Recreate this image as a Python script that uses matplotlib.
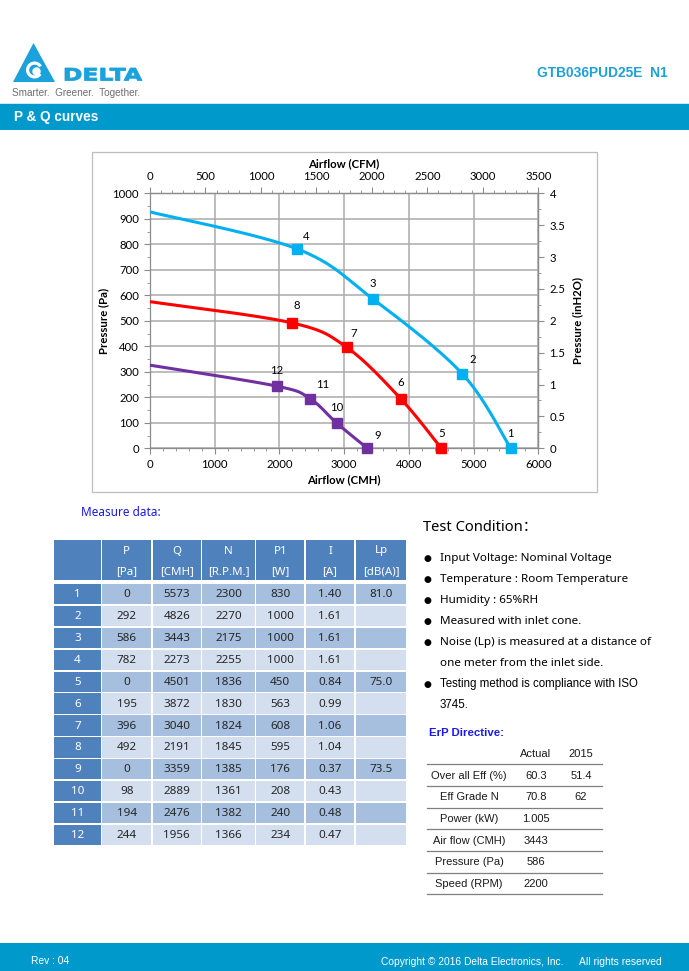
import numpy as np
import matplotlib
matplotlib.use("Agg")
import matplotlib.pyplot as plt
from matplotlib.patches import Rectangle, Polygon, Wedge, PathPatch
from matplotlib.textpath import TextPath
from matplotlib.font_manager import FontProperties
from matplotlib.transforms import Affine2D

# ---- data ----
point_no = list(range(1, 13))
P_pa = [0, 292, 586, 782, 0, 195, 396, 492, 0, 98, 194, 244]
Q_cmh = [5573, 4826, 3443, 2273, 4501, 3872, 3040, 2191, 3359, 2889, 2476, 1956]
N_rpm = [2300, 2270, 2175, 2255, 1836, 1830, 1824, 1845, 1385, 1361, 1382, 1366]
P1_w = [830, 1000, 1000, 1000, 450, 563, 608, 595, 176, 208, 240, 234]
I_a = ["1.40", "1.61", "1.61", "1.61", "0.84", "0.99", "1.06", "1.04",
       "0.37", "0.43", "0.48", "0.47"]
Lp_db = ["81.0", "", "", "", "75.0", "", "", "", "73.5", "", "", ""]
# pressure where each curve meets Q = 0
shutoff_pa = [927, 575, 326]

conditions = [
    ("Input Voltage: Nominal Voltage", True),
    ("Temperature : Room Temperature", True),
    ("Humidity : 65%RH", True),
    ("Measured with inlet cone.", True),
    ("Noise (Lp) is measured at a distance of", True),
    ("one meter from the inlet side.", False),
    ("Testing method is compliance with ISO", True),
    ("3745.", False),
]
erp_rows = ["Over all Eff (%)", "Eff Grade N", "Power (kW)", "Air flow (CMH)",
            "Pressure (Pa)", "Speed (RPM)"]
erp_actual = ["60.3", "70.8", "1.005", "3443", "586", "2200"]
erp_2015 = ["51.4", "62", "", "", "", ""]

# ---- styles ----
W, H = 689, 971
BLUE_BAR = "#0099CC"
CYAN = "#1BA1DB"
curve_colors = ["#00B0F0", "#FF0000", "#7030A0"]
# label offsets in pixels (dx, dy) for the point numbers
lab_off = {1: (0, 15), 2: (10, 14), 3: (0, 15), 4: (9, 12), 5: (0, 15), 6: (0, 16),
           7: (7, 14), 8: (5, 17), 9: (10, 13), 10: (0, 16), 11: (12, 14), 12: (0, 16)}
CHART_FONT = "Lato"
TAB_FONT = "Noto Sans"
ARIAL = "Liberation Sans"
TICK_FS = 8.2


def smooth(xs, ys, n=40):
    """Excel-like smoothed line (Catmull-Rom bezier through the points)."""
    pts = np.column_stack([xs, ys]).astype(float)
    out = []
    t = np.linspace(0, 1, n)[:, None]
    for i in range(len(pts) - 1):
        p0 = pts[max(i - 1, 0)]
        p1, p2 = pts[i], pts[i + 1]
        p3 = pts[min(i + 2, len(pts) - 1)]
        c1 = p1 + (p2 - p0) / 6
        c2 = p2 - (p3 - p1) / 6
        seg = (1 - t) ** 3 * p1 + 3 * (1 - t) ** 2 * t * c1 + 3 * (1 - t) * t ** 2 * c2 + t ** 3 * p2
        out.append(seg if i == 0 else seg[1:])
    return np.vstack(out)


fig = plt.figure(figsize=(W / 100, H / 100), dpi=100)
page = fig.add_axes([0, 0, 1, 1])
page.set_xlim(0, W)
page.set_ylim(H, 0)
page.axis("off")


def box(x0, y0, x1, y1, color, **kw):
    page.add_patch(Rectangle((x0, y0), x1 - x0, y1 - y0, facecolor=color,
                             edgecolor="none", **kw))


# ---- header ----
page.add_patch(Polygon([(13, 82), (33.5, 43), (55, 82)], closed=True,
                       facecolor=CYAN, edgecolor="none"))
page.add_patch(Wedge((34.5, 70), 8.5, 35, 330, width=3.2, facecolor="white",
                     edgecolor="none"))
page.add_patch(Wedge((36.5, 71.5), 4.2, 0, 360, width=4.2, facecolor="white",
                     edgecolor="none"))
tp = TextPath((0, 0), "DELTA", size=1, prop=FontProperties(family="DejaVu Sans", weight="bold"))
ext = tp.get_extents()
tr = (Affine2D().translate(-ext.x0, -ext.y0)
      .scale(77 / ext.width, -12.5 / ext.height).translate(65, 80.5))
page.add_patch(PathPatch(tr.transform_path(tp), facecolor=CYAN, edgecolor=CYAN, lw=0.6))
page.text(12, 93, "Smarter.  Greener.  Together.", fontsize=7.2, color="#6d6d6d",
          family=ARIAL, va="center", ha="left")
page.text(668, 73, "GTB036PUD25E  N1", fontsize=9.9, color=CYAN, weight="bold",
          family=ARIAL, va="center", ha="right")
box(0, 103, W, 104.5, "#CFE6F2")
box(0, 104.5, W, 130.5, BLUE_BAR)
page.text(14, 117.5, "P & Q curves", fontsize=9.8, color="white", weight="bold",
          family=ARIAL, va="center")

# ---- footer ----
box(0, 943, W, H, BLUE_BAR)
page.text(31, 961, "Rev : 04", fontsize=7.4, color="white", family=ARIAL, va="center")
page.text(563, 962, "Copyright \u00a9 2016 Delta Electronics, Inc.", fontsize=7.4,
          color="white", family=ARIAL, va="center", ha="right")
page.text(662, 962, "All rights reserved", fontsize=7.4, color="white", family=ARIAL,
          va="center", ha="right")

# ---- chart ----
page.add_patch(Rectangle((92, 152), 505, 340, facecolor="white", edgecolor="#BDBDBD", lw=0.9))
x0, x1, y0, y1 = 150, 538.3, 193.3, 448.3
ax = fig.add_axes([x0 / W, 1 - y1 / H, (x1 - x0) / W, (y1 - y0) / H])
ax.set_xlim(0, 6000)
ax.set_ylim(0, 1000)
ax.set_xticks(np.arange(0, 6001, 1000))
ax.set_yticks(np.arange(0, 1001, 100))
ax.set_xticks(np.arange(0, 6001, 200), minor=True)
ax.set_yticks(np.arange(0, 1001, 50), minor=True)
ax.grid(True, which="major", color="#ABABAB", lw=1.1)
ax.set_axisbelow(True)
for s in ax.spines.values():
    s.set_color("#8C8C8C")
    s.set_linewidth(0.9)
ax.tick_params(which="both", direction="out", color="#8C8C8C", labelsize=TICK_FS, pad=4)
ax.tick_params(which="major", length=4)
ax.tick_params(which="minor", length=2.5)
for lab in ax.get_xticklabels() + ax.get_yticklabels():
    lab.set_family(CHART_FONT)
ax.set_xlabel("Airflow (CMH)", fontsize=TICK_FS, weight="bold", family=CHART_FONT, labelpad=3)
ax.set_ylabel("Pressure (Pa)", fontsize=TICK_FS, weight="bold", family=CHART_FONT, labelpad=2)

top = ax.secondary_xaxis("top", functions=(lambda q: q * 3500 / 6000, lambda c: c * 6000 / 3500))
top.set_xticks(np.arange(0, 3501, 500))
top.set_xticks(np.arange(0, 3501, 100), minor=True)
top.set_xlabel("Airflow (CFM)", fontsize=TICK_FS, weight="bold", family=CHART_FONT, labelpad=3)
right = ax.secondary_yaxis("right", functions=(lambda p: p * 4 / 1000, lambda h: h * 1000 / 4))
right.set_yticks([0, 0.5, 1, 1.5, 2, 2.5, 3, 3.5, 4])
right.set_yticklabels(["0", "0.5", "1", "1.5", "2", "2.5", "3", "3.5", "4"])
right.set_yticks(np.arange(0, 4.01, 0.25), minor=True)
right.set_ylabel("Pressure (inH2O)", fontsize=TICK_FS, weight="bold", family=CHART_FONT, labelpad=5)
for sec in (top, right):
    sec.tick_params(which="both", direction="out", color="#8C8C8C", labelsize=TICK_FS, pad=4)
    sec.tick_params(which="major", length=4)
    sec.tick_params(which="minor", length=2.5)
    for lab in sec.get_xticklabels() + sec.get_yticklabels():
        lab.set_family(CHART_FONT)
    for s in sec.spines.values():
        s.set_color("#8C8C8C")
        s.set_linewidth(0.9)

for g in range(3):
    idx = list(range(4 * g, 4 * g + 4))
    qs = [0] + [Q_cmh[i] for i in idx][::-1]
    ps = [shutoff_pa[g]] + [P_pa[i] for i in idx][::-1]
    line = smooth(qs, ps)
    ax.plot(line[:, 0], line[:, 1], color=curve_colors[g], lw=2.2, solid_capstyle="butt",
            zorder=3, clip_on=False)
    ax.plot([Q_cmh[i] for i in idx], [P_pa[i] for i in idx], "s", ms=6.8,
            color=curve_colors[g], zorder=4, clip_on=False)
    for i in idx:
        ax.annotate(str(point_no[i]), (Q_cmh[i], P_pa[i]), xytext=lab_off[point_no[i]],
                    textcoords="offset pixels", ha="center", va="center",
                    fontsize=TICK_FS, family=CHART_FONT, zorder=5)

# ---- measure data table ----
page.text(81, 512, "Measure data:", fontsize=8.5, color="#1A1AF0", family=TAB_FONT,
          weight="semibold", va="center")
col_edges = [54, 102.3, 152.7, 202.3, 256.3, 305.7, 356, 408]
gap = 1.6
heads = [("", ""), ("P", "[Pa]"), ("Q", "[CMH]"), ("N", "[R.P.M.]"), ("P1", "[W]"),
         ("I", "[A]"), ("Lp", "[dB(A)]")]
hdr_col = "#4F81BD"
for c, (h1, h2) in enumerate(heads):
    a, b = col_edges[c], col_edges[c + 1] - gap
    box(a, 540, b, 580, hdr_col)
    cx = (a + b) / 2
    page.text(cx, 551, h1, fontsize=8.3, color="white", family=TAB_FONT, ha="center", va="center")
    page.text(cx, 571.5, h2, fontsize=8.3, color="white", family=TAB_FONT, ha="center", va="center")

row_top, pitch, rh = 584, 21.9, 20.3
for r in range(12):
    ya = row_top + r * pitch
    yb = ya + rh
    fill = "#A7BFDE" if r % 2 == 0 else "#D3DFEE"
    vals = [str(point_no[r]), str(P_pa[r]), str(Q_cmh[r]), str(N_rpm[r]), str(P1_w[r]),
            I_a[r], Lp_db[r]]
    for c, v in enumerate(vals):
        a, b = col_edges[c], col_edges[c + 1] - gap
        box(a, ya, b, yb, hdr_col if c == 0 else fill)
        page.text((a + b) / 2, (ya + yb) / 2 + 0.5, v, fontsize=8.4,
                  color="white" if c == 0 else "#262626", family=TAB_FONT,
                  ha="center", va="center")

# ---- test condition ----
page.text(423, 527, "Test Condition\uff1a", fontsize=10.6, color="black",
          family=[TAB_FONT, "Noto Sans CJK SC"], va="center")
for k, (txt, bullet) in enumerate(conditions):
    y = 559 + k * 20.9
    if bullet:
        page.text(427, y, "\u25cf", fontsize=6.5, color="black", family="DejaVu Sans",
                  ha="center", va="center")
    fam = ARIAL if k >= 6 else TAB_FONT
    fs = 8.3 if k >= 6 else 8.4
    page.text(440, y, txt, fontsize=fs, color="black", family=fam, va="center")

# ---- ErP directive ----
ERP_FS = 8.0
page.text(429, 733, "ErP Directive:", fontsize=8.2, color="#1A1AF0", weight="bold",
          family=ARIAL, va="center")
page.text(536, 754.3, "Actual", fontsize=ERP_FS, family=ARIAL, ha="center", va="center",
          color="#1a1a1a")
page.text(581, 754.3, "2015", fontsize=ERP_FS, family=ARIAL, ha="center", va="center",
          color="#1a1a1a")
for k in range(len(erp_rows)):
    ytop = 764.3 + k * 21.67
    page.plot([427, 602], [ytop, ytop], color="#7F7F7F", lw=0.9)
    yc = ytop + 11.3
    page.text(469, yc, erp_rows[k], fontsize=ERP_FS, family=ARIAL, ha="center", va="center",
              color="#1a1a1a")
    page.text(536, yc, erp_actual[k], fontsize=ERP_FS, family=ARIAL, ha="center", va="center",
              color="#1a1a1a")
    page.text(581, yc, erp_2015[k], fontsize=ERP_FS, family=ARIAL, ha="center", va="center",
              color="#1a1a1a")
page.plot([427, 602], [764.3 + 6 * 21.67] * 2, color="#7F7F7F", lw=0.9)

fig.savefig("out.png", dpi=100)
